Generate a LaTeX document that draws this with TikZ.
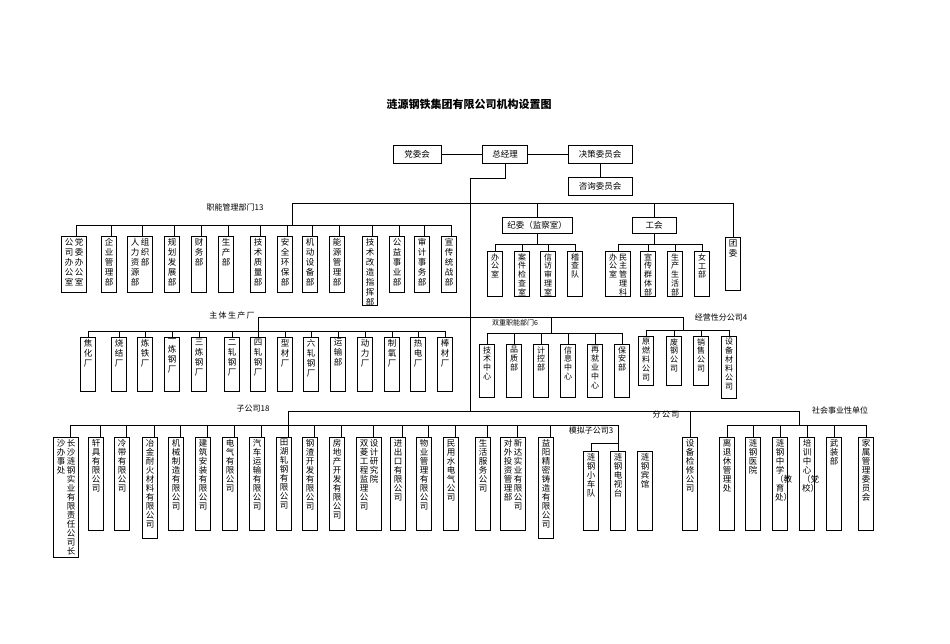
\documentclass[tikz,border=0pt]{standalone}
\usepackage{fontspec}
\setmainfont{Noto Sans CJK SC}
\XeTeXlinebreaklocale "zh"
\XeTeXlinebreakskip=0pt plus 1pt
\newcommand\vt[2]{\parbox[t][#1pt][t]{10pt}{\centering #2\par}}
\newcommand\vtt[3]{\vt{#1}{#2}\vt{#1}{#3}}
\tikzset{
  vb/.style = {draw, anchor=north, inner xsep=2.5pt, inner ysep=2pt},
  hb/.style = {draw, minimum height=18pt, inner sep=2pt},
  grp/.style = {font=\fontsize{8}{9}\selectfont, inner sep=1pt},
  small/.style = {font=\fontsize{8}{8.9}\selectfont}
}
\begin{document}
\begin{tikzpicture}[x=1pt,y=-1pt,line width=0.6pt,font=\fontsize{8.5}{10}\selectfont]
  \useasboundingbox (0,0) rectangle (950,643);
  \node[font=\bfseries\fontsize{11}{12}\selectfont] (title) at (469,104) {涟源钢铁集团有限公司机构设置图};
  % top
  \node[hb,minimum width=48pt] (dw) at (417,154) {党委会};
  \node[hb,minimum width=45pt] (gm) at (505,154) {总经理};
  \node[hb,minimum width=64pt] (jc) at (600,154) {决策委员会};
  \node[hb,minimum width=64pt] (zx) at (600,186) {咨询委员会};
  \draw (dw) -- (gm);
  \draw (gm) -- (jc);
  \draw (jc) -- (zx);
  \coordinate (t0) at (470,178);
  \coordinate (tb) at (470,411);
  \draw (gm.south) -- (gm.south |- t0) -- (t0) -- (tb);
  % row 1
  \coordinate (j1) at (470,203);
  \coordinate (b1) at (0,225);
  \node[grp] (l1) at (235,207) {职能管理部门13};
  \node[vb] (f1) at (74,236) {\vtt{52}{公司办公室}{党委办公室}};
  \node[vb] (f3) at (140,236) {\vtt{52}{人力资源部}{组织部}};
  \foreach \n/\x/\h/\t in {f2/109/52/企业管理部,f4/172/52/规划发展部,f5/199/52/财务部,
      f6/226/52/生产部,f7/258/52/技术质量部,f8/285/52/安全环保部,f9/310/52/机动设备部,
      f10/337/52/能源管理部,f11/370/65/技术改造指挥部,f12/397/52/公益事业部,
      f13/422/52/审计事务部,f14/449/52/宣传统战部}
    \node[vb] (\n) at (\x,236) {\vt{\h}{\t}};
  \foreach \n in {f1,f2,f3,f4,f5,f6,f7,f8,f9,f10,f11,f12,f13,f14}
    \draw ([xshift=2pt]\n.north) -- ([xshift=2pt]\n.north |- b1);
  \draw ([xshift=2pt]f1.north |- b1) -- ([xshift=2pt]f14.north |- b1);
  \draw (j1) -| ([xshift=7pt]f8.north |- b1);
  \node[hb,minimum width=70pt,minimum height=16pt] (jw) at (537,225) {纪委（监察室）};
  \node[hb,minimum width=44pt,minimum height=16pt] (gh) at (654,225) {工会};
  \node[vb] (tw) at (733,237) {\vt{49}{团委}};
  \draw (j1) -| (tw.north);
  \draw (jw.north |- j1) -- (jw.north);
  \draw (gh.north |- j1) -- (gh.north);
  \coordinate (b1r) at (0,244);
  \foreach \n/\x/\t in {jw1/495/办公室,jw2/522/案件检查室,jw3/548/信访审理室,jw4/575/稽查队}
    \node[vb,small] (\n) at (\x,251) {\vt{41}{\t}};
  \node[vb,small] (gh1) at (618,251) {\vtt{41}{办公室}{民主管理科}};
  \foreach \n/\x/\t in {gh2/648/宣传群体部,gh3/675/生产生活部,gh4/702/女工部}
    \node[vb,small] (\n) at (\x,251) {\vt{41}{\t}};
  \foreach \n in {jw1,jw2,jw3,jw4,gh1,gh2,gh3,gh4}
    \draw (\n.north) -- (\n.north |- b1r);
  \draw (jw1.north |- b1r) -- (jw4.north |- b1r);
  \draw (gh1.north |- b1r) -- (gh4.north |- b1r);
  \draw (jw) -- (jw.south |- b1r);
  \draw (gh) -- (gh.south |- b1r);
  % row 2
  \coordinate (j2) at (470,317);
  \coordinate (b2) at (0,331);
  \node[grp] (l2) at (232,315) {主\,体\,生\,产\,厂};
  \foreach \n/\x/\t in {p1/88/焦化厂,p2/119/烧结厂,p3/145/炼铁厂,p4/172/一炼钢厂,p5/199/三炼钢厂,
      p6/232/二轧钢厂,p7/258/四轧钢厂,p8/285/型材厂,p9/311/六轧钢厂,p10/338/运输部,
      p11/365/动力厂,p12/392/制氧厂,p13/418/热电厂,p14/445/棒材厂}
    {\node[vb] (\n) at (\x,337) {\vt{50}{\t}};
     \draw (\n.north) -- (\n.north |- b2);}
  \draw (p1.north |- b2) -- (p14.north |- b2);
  \draw (j2) -| (p7.north |- b2);
  \coordinate (b2s) at (0,333);
  \node[grp,font=\fontsize{7}{8}\selectfont] (l3) at (515,323) {双重职能部门6};
  \foreach \n/\x/\t in {s1/487/技术中心,s2/514/品质部,s3/541/计控部,s4/568/信息中心,
      s5/595/再就业中心,s6/622/保安部}
    {\node[vb,small] (\n) at (\x,344) {\vt{49}{\t}};
     \draw (\n.north) -- (\n.north |- b2s);}
  \draw (s1.north |- b2s) -- (s6.north |- b2s);
  \coordinate (jy) at (683,330);
  \draw (j2) -| (jy);
  \draw ([xshift=10pt]s3.north |- j2) -- ([xshift=10pt]s3.north |- b2s);
  \node[grp] (l4) at (721,317) {经营性分公司4};
  \foreach \n/\x/\h/\t in {y1/646/45/原燃料公司,y2/674/45/废钢公司,y3/701/45/销售公司,y4/729/58/设备材料公司}
    {\node[vb,small] (\n) at (\x,336) {\vt{\h}{\t}};
     \draw (\n.north) -- (\n.north |- jy);}
  \draw (y1.north |- jy) -- (y4.north |- jy);
  % row 3
  \coordinate (b3) at (0,425);
  \node[grp] (l5) at (253,409) {子公司18};
  \begin{scope}[font=\fontsize{8.5}{9}\selectfont]
  \node[vb] (z1) at (66,437) {\vtt{116}{沙办事处}{长沙涟钢实业有限责任公司长}};
  \node[vb] (z12) at (369,437) {\vtt{89}{双菱工程监理公司}{设计研究院}};
  \node[vb] (z17) at (513,437) {\vtt{89}{对外投资管理部}{新达实业有限公司}};
  \foreach \n/\x/\h/\t in {z2/96/89/轩具有限公司,z3/122/89/冷带有限公司,z4/150/97/冶金耐火材料有限公司,
      z5/176/89/机械制造有限公司,z6/203/89/建筑安装有限公司,z7/230/89/电气有限公司,
      z8/257/89/汽车运输有限公司,z9/284/89/田湖轧钢有限公司,z10/310/89/钢渣开发有限公司,
      z11/337/89/房地产开发有限公司,z13/398/89/进出口有限公司,z14/424/89/物业管理有限公司,
      z15/451/89/民用水电气公司,z16/483/89/生活服务公司,z18/546/97/益阳精密铸造有限公司}
    \node[vb] (\n) at (\x,437) {\vt{\h}{\t}};
  \foreach \n in {z1,z2,z3,z4,z5,z6,z7,z8,z9,z10,z11,z12,z13,z14,z15,z16,z17,z18}
    \draw ([xshift=4pt]\n.north) -- ([xshift=4pt]\n.north |- b3);
  \foreach \n/\x/\t in {m1/591/涟钢小车队,m2/618/涟钢电视台,m3/645/涟钢宾馆}
    \node[vb] (\n) at (\x,451) {\vt{75}{\t}};
  \node[vb] (fg) at (690,437) {\vt{89}{设备检修公司}};
  \foreach \n/\x/\t in {r1/727/离退休管理处,r2/753/涟钢医院,r3/780/涟钢中学（教育处）,
      r4/807/培训中心（党校）,r5/834/武装部,r6/866/家属管理委员会}
    {\node[vb] (\n) at (\x,437) {\vt{89}{\t}};
     \draw (\n.north) -- (\n.north |- b3);}
  \end{scope}
  \draw ([xshift=4pt]z1.north |- b3) -- (m2.north |- b3) -- (m2.north);
  \coordinate (bm) at (0,443);
  \draw (m1.north) -- (m1.north |- bm) -- (m2.north |- bm);
  \node[grp] (l6) at (591,430) {模拟子公司3};
  \draw (tb) -| ([xshift=4pt]z9.north |- b3);
  \coordinate (js) at (799,411);
  \draw (tb) -- (js) -- (js |- b3);
  \draw (fg.north |- tb) -- (fg.north);
  \draw (r1.north |- b3) -- (r6.north |- b3);
  \node[grp] (l7) at (666,415) {分\,公\,司};
  \node[grp] (l8) at (840,410) {社会事业性单位};
\end{tikzpicture}
\end{document}
